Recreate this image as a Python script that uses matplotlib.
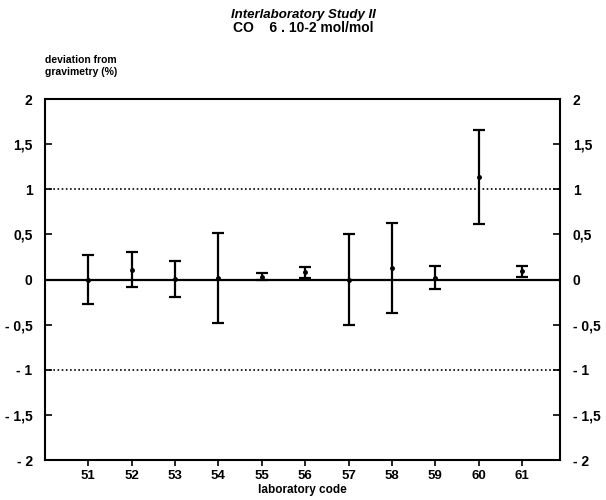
import matplotlib.pyplot as plt
from matplotlib.ticker import FuncFormatter

# Lab codes and deviation from gravimetry (%), with lower/upper error bar ends
labs = [51, 52, 53, 54, 55, 56, 57, 58, 59, 60, 61]
dev = [0.0, 0.11, 0.01, 0.02, 0.03, 0.08, 0.0, 0.13, 0.02, 1.14, 0.09]
low = [-0.27, -0.085, -0.19, -0.48, 0.0, 0.02, -0.5, -0.37, -0.11, 0.61, 0.03]
high = [0.27, 0.31, 0.21, 0.52, 0.07, 0.14, 0.5, 0.63, 0.15, 1.66, 0.15]
yticks = [-2, -1.5, -1, -0.5, 0, 0.5, 1, 1.5, 2]

plt.rcParams['font.family'] = ['Liberation Sans', 'DejaVu Sans']
plt.rcParams['font.weight'] = 'bold'

fig = plt.figure(figsize=(6.06, 5.0), dpi=100)
ax = fig.add_axes([0.0743, 0.08, 0.85, 0.722])

yerr = [[d - l for d, l in zip(dev, low)], [h - d for d, h in zip(dev, high)]]
ax.errorbar(labs, dev, yerr=yerr, fmt='none', ecolor='black', elinewidth=1.6,
            capsize=4, capthick=1.6)
ax.plot(labs, dev, 'o', color='black', markersize=2.5)

ax.axhline(0, color='black', lw=1.6)
ax.axhline(1, color='black', lw=1.2, ls=(0, (1, 1.5)))
ax.axhline(-1, color='black', lw=1.2, ls=(0, (1, 1.5)))

ax.set_xlim(50, 61.88)
ax.set_ylim(-2, 2)
ax.set_xticks(labs)
ax.set_yticks(yticks)
fmt = FuncFormatter(lambda v, p: ('%g' % v).replace('.', ',').replace('-', '- '))
ax.yaxis.set_major_formatter(fmt)
ax.tick_params(axis='y', direction='in', length=5, width=1.2, labelsize=10,
               left=True, right=True, labelleft=True, labelright=True)
ax.tick_params(axis='y', which='major', pad=9)
ax.tick_params(axis='x', direction='out', length=4, width=1.2, labelsize=9.5, pad=3)
for s in ax.spines.values():
    s.set_linewidth(1.5)

ax.set_xlabel('laboratory code', fontsize=8.5, fontweight='bold', labelpad=2)
fig.text(0.5, 0.97, 'Interlaboratory Study II', ha='center', va='center',
         fontsize=9.5, fontweight='bold', style='italic')
fig.text(0.5, 0.943, 'CO    6 . 10-2 mol/mol', ha='center', va='center',
         fontsize=10, fontweight='bold')
fig.text(0.074, 0.868, 'deviation from\ngravimetry (%)', ha='left', va='center',
         fontsize=7.5, fontweight='bold', linespacing=1.3)

fig.savefig('out.png', dpi=100)
